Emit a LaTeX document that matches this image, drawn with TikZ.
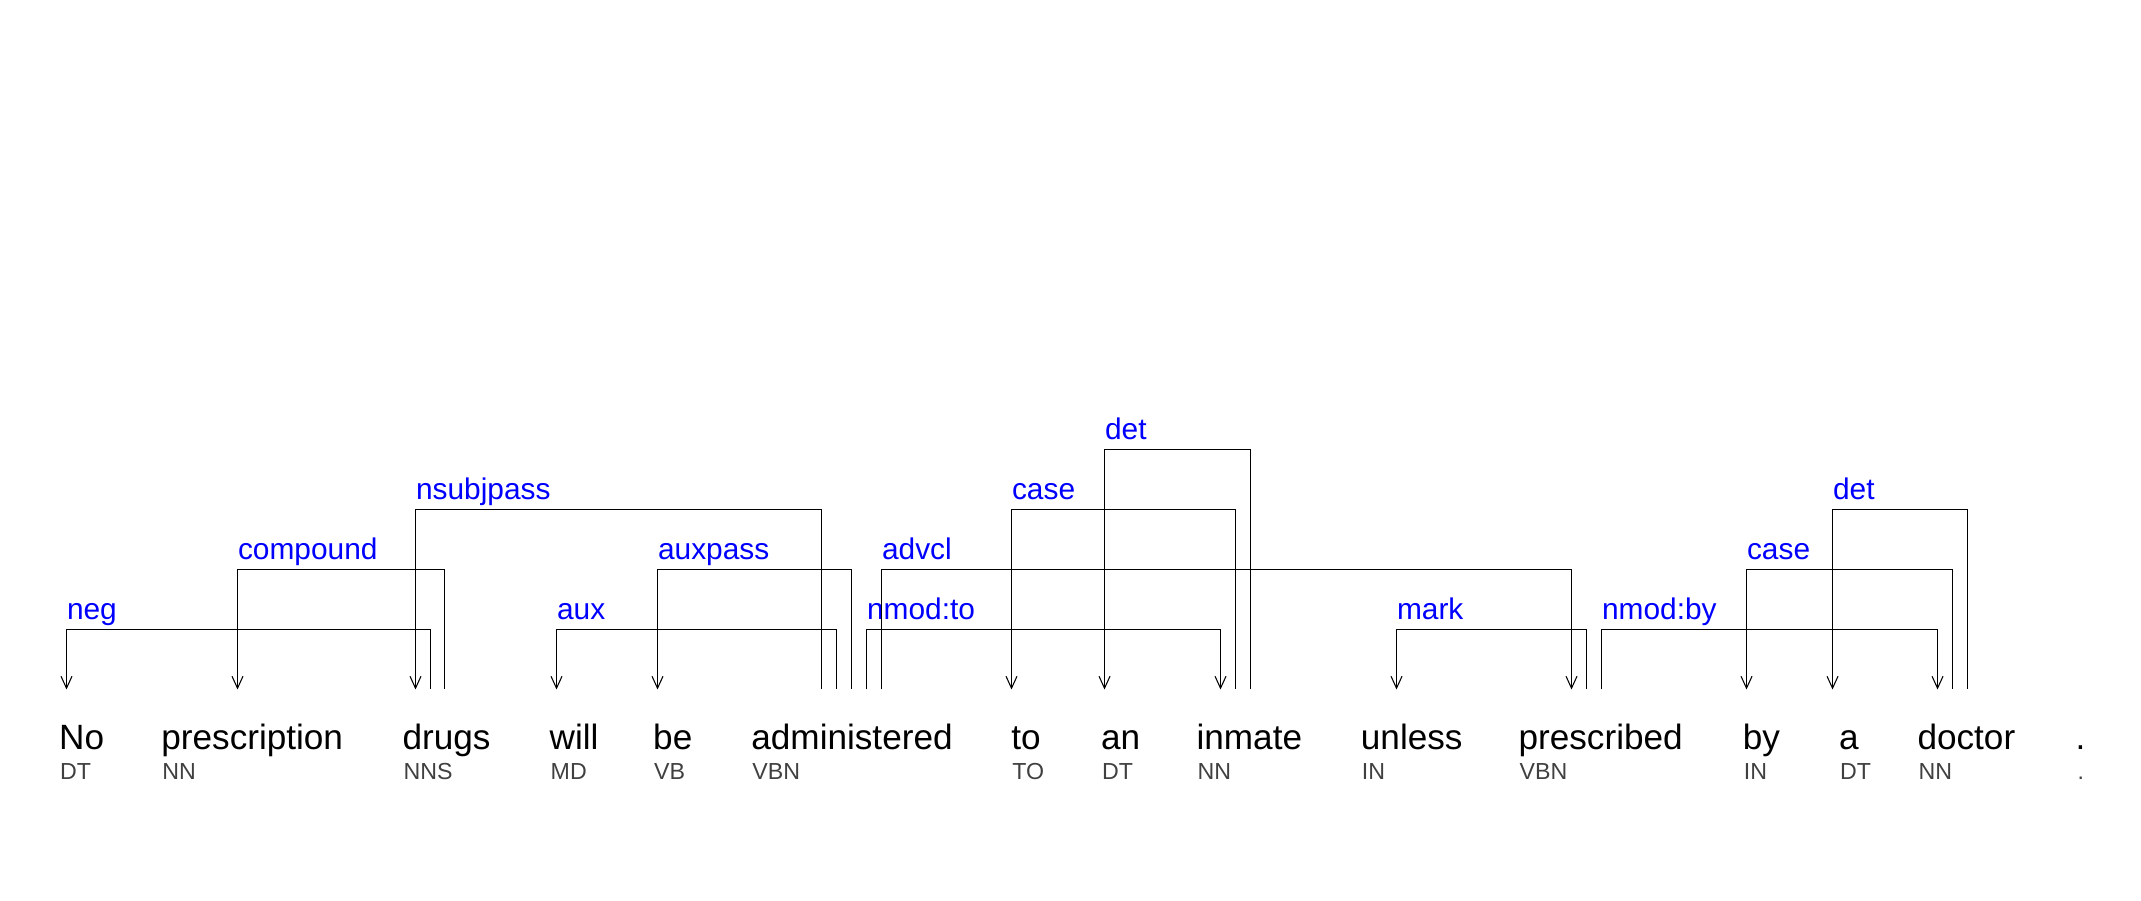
\documentclass[tikz,border=0pt]{standalone}
\usepackage{fontspec}
\setmainfont{Liberation Sans}
\usetikzlibrary{calc,arrows.meta}
\definecolor{tagcol}{RGB}{64,64,64}

\begin{document}
\begin{tikzpicture}[x=0.1mm,y=0.1mm,
    word/.style={anchor=base west,inner sep=0pt,font=\fontsize{10}{12}\selectfont},
    tag/.style={anchor=base west,inner sep=0pt,text=tagcol,font=\fontsize{6.6}{8}\selectfont},
    lab/.style={midway,anchor=base west,inner sep=0pt,yshift=1mm,text=blue,font=\fontsize{8.5}{10}\selectfont},
    dep/.style={line width=0.3pt,>={Straight Barb[length=1.2mm,width=1.1mm]}}]
      \useasboundingbox (0,0) rectangle (2141,900);

      % words and their tags
      \node[word] (w-no) at (58.5,150.5) {No};                   \node[tag] (t-no) at (59.5,120) {DT};
      \node[word] (w-prescription) at (160.7,150.5) {prescription}; \node[tag] (t-prescription) at (161.7,120) {NN};
      \node[word] (w-drugs) at (401.8,150.5) {drugs};             \node[tag] (t-drugs) at (402.8,120) {NNS};
      \node[word] (w-will) at (549,150.5) {will};                 \node[tag] (t-will) at (550,120) {MD};
      \node[word] (w-be) at (652.5,150.5) {be};                   \node[tag] (t-be) at (653.5,120) {VB};
      \node[word] (w-administered) at (750.7,150.5) {administered}; \node[tag] (t-administered) at (751.7,120) {VBN};
      \node[word] (w-to) at (1010.7,150.5) {to};                  \node[tag] (t-to) at (1011.7,120) {TO};
      \node[word] (w-an) at (1100.4,150.5) {an};                  \node[tag] (t-an) at (1101.4,120) {DT};
      \node[word] (w-inmate) at (1195.9,150.5) {inmate};          \node[tag] (t-inmate) at (1196.9,120) {NN};
      \node[word] (w-unless) at (1360.2,150.5) {unless};          \node[tag] (t-unless) at (1361.2,120) {IN};
      \node[word] (w-prescribed) at (1517.9,150.5) {prescribed};  \node[tag] (t-prescribed) at (1518.9,120) {VBN};
      \node[word] (w-by) at (1742.2,150.5) {by};                  \node[tag] (t-by) at (1743.2,120) {IN};
      \node[word] (w-a) at (1838.5,150.5) {a};                    \node[tag] (t-a) at (1839.5,120) {DT};
      \node[word] (w-doctor) at (1916.8,150.5) {doctor};          \node[tag] (t-doctor) at (1917.8,120) {NN};
      \node[word] (w-stop) at (2075,150.5) {.};                   \node[tag] (t-stop) at (2077,120) {.};

      % dependency links
      \draw[dep,<-] ($(w-no.base west)+(8,60)$) |- node[lab] {neg} ($(w-drugs.base west)+(28.7,120)$) -- ++(0,-60);
      \draw[dep,<-] ($(w-prescription.base west)+(76.8,60)$) |- node[lab] {compound} ($(w-drugs.base west)+(42.7,180)$) -- ++(0,-120);
      \draw[dep,<-] ($(w-drugs.base west)+(13.7,60)$) |- node[lab] {nsubjpass} ($(w-administered.base west)+(70.8,240)$) -- ++(0,-180);
      \draw[dep,<-] ($(w-will.base west)+(7.5,60)$) |- node[lab] {aux} ($(w-administered.base west)+(85.8,120)$) -- ++(0,-60);
      \draw[dep,<-] ($(w-be.base west)+(5,60)$) |- node[lab] {auxpass} ($(w-administered.base west)+(100.8,180)$) -- ++(0,-120);
      \draw[dep,->] ($(w-administered.base west)+(115.8,60)$) |- node[lab] {nmod:to} ($(w-inmate.base west)+(24.6,120)$) -- ++(0,-60);
      \draw[dep,->] ($(w-administered.base west)+(130.8,60)$) |- node[lab] {advcl} ($(w-prescribed.base west)+(53.6,180)$) -- ++(0,-120);
      \draw[dep,<-] ($(w-to.base west)+(0.8,60)$) |- node[lab] {case} ($(w-inmate.base west)+(39.6,240)$) -- ++(0,-180);
      \draw[dep,<-] ($(w-an.base west)+(4.1,60)$) |- node[lab] {det} ($(w-inmate.base west)+(54.6,300)$) -- ++(0,-240);
      \draw[dep,<-] ($(w-unless.base west)+(36.3,60)$) |- node[lab] {mark} ($(w-prescribed.base west)+(68.6,120)$) -- ++(0,-60);
      \draw[dep,->] ($(w-prescribed.base west)+(83.6,60)$) |- node[lab] {nmod:by} ($(w-doctor.base west)+(20.7,120)$) -- ++(0,-60);
      \draw[dep,<-] ($(w-by.base west)+(4.3,60)$) |- node[lab] {case} ($(w-doctor.base west)+(35.7,180)$) -- ++(0,-120);
      \draw[dep,<-] ($(w-a.base west)+(-6,60)$) |- node[lab] {det} ($(w-doctor.base west)+(50.7,240)$) -- ++(0,-180);
    \end{tikzpicture}
\end{document}
